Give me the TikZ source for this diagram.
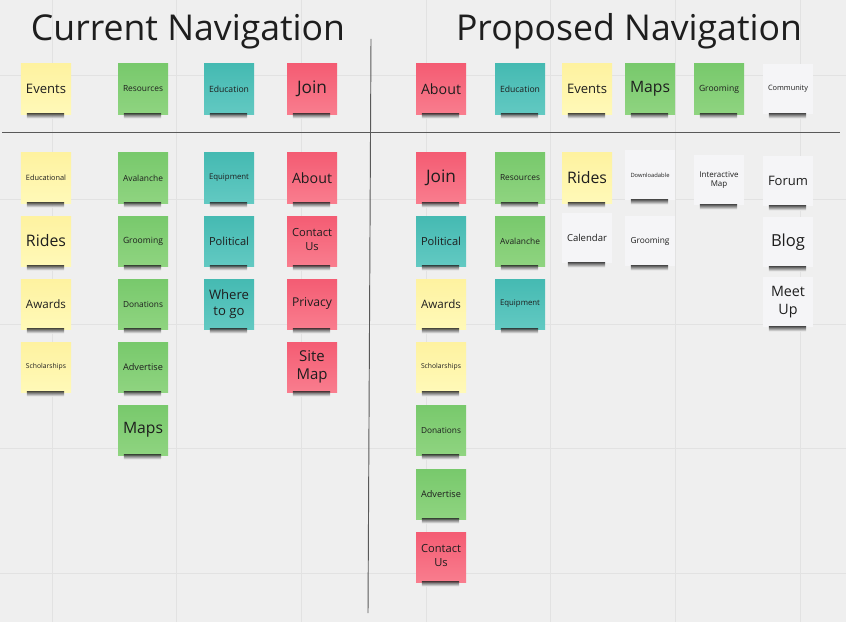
\documentclass[tikz,border=0pt]{standalone}
\usepackage{fontspec}
\setmainfont{Open Sans}
\usepackage{graphicx}

\definecolor{board}{HTML}{EFEFEF}
\definecolor{gridc}{HTML}{E2E2E2}
\definecolor{ink}{HTML}{1E1E1E}
\definecolor{yellowA}{HTML}{FEF2A0}
\definecolor{yellowB}{HTML}{FFF9B8}
\definecolor{greenA}{HTML}{78C96C}
\definecolor{greenB}{HTML}{8FD480}
\definecolor{tealA}{HTML}{45BAB2}
\definecolor{tealB}{HTML}{62C9C2}
\definecolor{pinkA}{HTML}{F45C73}
\definecolor{pinkB}{HTML}{F97D8E}
\definecolor{paper}{HTML}{F5F5F7}

% text squeezed to the width of a note
\newcommand{\fit}[2][1.2cm]{\resizebox{#1}{!}{#2}}
\newcommand{\two}[2]{\begin{tabular}{@{}c@{}}#1\\#2\end{tabular}}

\tikzset{
  note/.style={minimum width=1.5cm, minimum height=1.5cm, inner sep=0pt, text=ink},
  yellownote/.style={note, top color=yellowA, bottom color=yellowB},
  greennote/.style={note, top color=greenA, bottom color=greenB},
  tealnote/.style={note, top color=tealA, bottom color=tealB},
  pinknote/.style={note, top color=pinkA, bottom color=pinkB},
  papernote/.style={note, fill=paper},
  title/.style={anchor=base, inner sep=0pt, text=ink, font=\fontsize{30.4}{36}\selectfont},
  gridline/.style={draw=gridc, line width=0.6pt},
  divider/.style={draw=black!65, line width=0.8pt},
}

\begin{document}
\begin{tikzpicture}[x=0.03cm,y=-0.03cm]
  \fill[board] (0,0) rectangle (846,622);
  \useasboundingbox (0,0) rectangle (846,622);
  % board grid
  \foreach \i in {0,...,6}
    \draw[gridline] ({52+124.7*\i},0) -- ({52+124.7*\i},622);
  \foreach \j in {0,...,4}
    \draw[gridline] (0,{75+124.5*\j}) -- (846,{75+124.5*\j});

  % titles and dividers
  \node[title] (curTitle) at (188,41) {Current Navigation};
  \node[title] (propTitle) at (629,41) {Proposed Navigation};
  \coordinate (vTop) at (371,39);
  \coordinate (vBot) at (368,613);
  \coordinate (hLeft) at (2,132);
  \coordinate (hRight) at (840,132);
  \draw[divider] (vTop) -- (vBot);
  \draw[divider] (hLeft) -- (hRight);

  % current navigation
  \node[yellownote] (cEvents) at (46,89) {\fit{Events}};
  \node[greennote] (cResources) at (143,89) {\fit{Resources}};
  \node[tealnote] (cEducation) at (229,89) {\fit{Education}};
  \node[pinknote] (cJoin) at (312,89) {\fit[0.9cm]{Join}};

  \node[yellownote] (cEducational) at (46,178) {\fit{Educational}};
  \node[yellownote] (cRides) at (46,241) {\fit{Rides}};
  \node[yellownote] (cAwards) at (46,304) {\fit{Awards}};
  \node[yellownote] (cScholarships) at (46,367) {\fit{Scholarships}};

  \node[greennote] (cAvalanche) at (143,178) {\fit{Avalanche}};
  \node[greennote] (cGrooming) at (143,241) {\fit{Grooming}};
  \node[greennote] (cDonations) at (143,304) {\fit{Donations}};
  \node[greennote] (cAdvertise) at (143,367) {\fit{Advertise}};
  \node[greennote] (cMaps) at (143,430) {\fit{Maps}};

  \node[tealnote] (cEquipment) at (229,178) {\fit{Equipment}};
  \node[tealnote] (cPolitical) at (229,241) {\fit{Political}};
  \node[tealnote] (cWhere) at (229,304) {\fit{\two{Where}{to go}}};

  \node[pinknote] (cAbout) at (312,178) {\fit{About}};
  \node[pinknote] (cContact) at (312,241) {\fit{\two{Contact}{Us}}};
  \node[pinknote] (cPrivacy) at (312,304) {\fit{Privacy}};
  \node[pinknote] (cSiteMap) at (312,367) {\fit[0.93cm]{\two{Site}{Map}}};

  % proposed navigation
  \node[pinknote] (pAbout) at (441,89) {\fit{About}};
  \node[tealnote] (pEducation) at (520,89) {\fit{Education}};
  \node[yellownote] (pEvents) at (587,89) {\fit{Events}};
  \node[greennote] (pMaps) at (650,89) {\fit{Maps}};
  \node[greennote] (pGrooming) at (719,89) {\fit{Grooming}};
  \node[papernote] (pCommunity) at (788,89) {\fit{Community}};

  \node[pinknote] (pJoin) at (441,178) {\fit[0.9cm]{Join}};
  \node[tealnote] (pPolitical) at (441,241) {\fit{Political}};
  \node[yellownote] (pAwards) at (441,304) {\fit{Awards}};
  \node[yellownote] (pScholarships) at (441,367) {\fit{Scholarships}};
  \node[greennote] (pDonations) at (441,430) {\fit{Donations}};
  \node[greennote] (pAdvertise) at (441,494) {\fit{Advertise}};
  \node[pinknote] (pContact) at (441,557) {\fit{\two{Contact}{Us}}};

  \node[greennote] (pResources) at (520,178) {\fit{Resources}};
  \node[greennote] (pAvalanche) at (520,241) {\fit{Avalanche}};
  \node[tealnote] (pEquipment) at (520,304) {\fit{Equipment}};

  \node[yellownote] (pRides) at (587,178) {\fit{Rides}};
  \node[papernote] (pCalendar) at (587,238) {\fit{Calendar}};
  \node[papernote] (pDownload) at (650,175) {\fit[1.17cm]{Downloadable}};
  \node[papernote] (pGroomingB) at (650,241) {\fit[1.17cm]{Grooming}};
  \node[papernote] (pInteractive) at (719,180) {\fit[1.17cm]{\two{Interactive}{Map}}};
  \node[papernote] (pForum) at (788,181) {\fit{Forum}};
  \node[papernote] (pBlog) at (788,242) {\fit[1.02cm]{Blog}};
  \node[papernote] (pMeetUp) at (788,302) {\fit[1.02cm]{\two{Meet}{Up}}};

  % shadows under the notes
  \foreach \n in {cEvents,cResources,cEducation,cJoin,cEducational,cRides,cAwards,
      cScholarships,cAvalanche,cGrooming,cDonations,cAdvertise,cMaps,cEquipment,
      cPolitical,cWhere,cAbout,cContact,cPrivacy,cSiteMap,pAbout,pEducation,pEvents,
      pMaps,pGrooming,pCommunity,pJoin,pPolitical,pAwards,pScholarships,pDonations,
      pAdvertise,pContact,pResources,pAvalanche,pEquipment,pRides,pCalendar,pDownload,
      pGroomingB,pInteractive,pForum,pBlog,pMeetUp}
    \shade[top color=black!70, bottom color=board, opacity=.85]
      ([shift={(6,-0.3)}]\n.south west) rectangle ([shift={(-7,4)}]\n.south east);
\end{tikzpicture}
\end{document}
